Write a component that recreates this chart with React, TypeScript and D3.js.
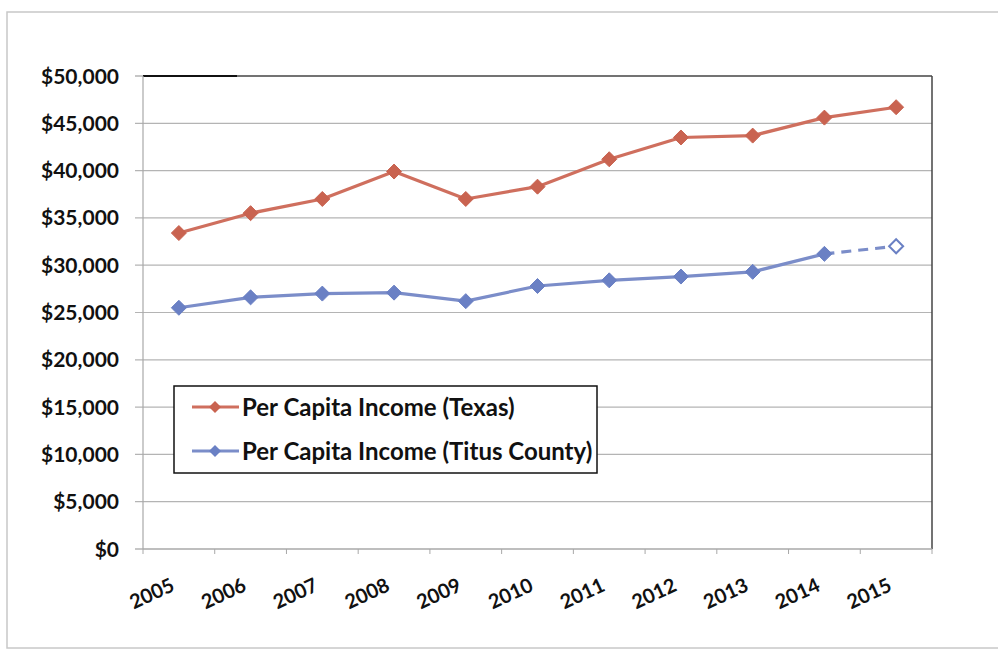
import React from "react";
import * as d3 from "d3";

const years = ["2005","2006","2007","2008","2009","2010","2011","2012","2013","2014","2015"];
const texas = [33400, 35500, 37000, 39900, 37000, 38300, 41200, 43500, 43700, 45600, 46700];
const titus = [25500, 26600, 27000, 27100, 26200, 27800, 28400, 28800, 29300, 31200, 32000];
const yTicks = [0, 5000, 10000, 15000, 20000, 25000, 30000, 35000, 40000, 45000, 50000];
const seriesNames = ["Per Capita Income (Texas)", "Per Capita Income (Titus County)"];

const W = 998, H = 650;
const L = 143, R = 932, T = 76, B = 549;
const RED = "#cf6f5e", RED_M = "#c96350";
const BLUE = "#7b8dc9", BLUE_M = "#6a80c4";
const FONT = "Lato, 'Open Sans', sans-serif";

export default function App() {
  const x = d3.scaleBand<string>().domain(years).range([L, R]).padding(0);
  const y = d3.scaleLinear().domain([0, 50000]).range([B, T]);
  const cx = (i: number) => (x(years[i]) as number) + x.bandwidth() / 2;
  const line = d3.line<number>().x((_, i) => cx(i)).y((d) => y(d));
  const diamond = (px: number, py: number, r = 7.5) =>
    `M${px},${py - r}L${px + r},${py}L${px},${py + r}L${px - r},${py}Z`;

  const titusSolid = titus.slice(0, 10);
  const dashedPath = `M${cx(9)},${y(titus[9])}L${cx(10)},${y(titus[10])}`;
  const fmt = (v: number) => "$" + d3.format(",")(v);

  return (
    <svg width={W} height={H} style={{ position: "absolute", left: 0, top: 0, background: "#fff" }}>
      {/* outer frame */}
      <rect x={7} y={12} width={1100} height={636} fill="none" stroke="#c8c8c8" strokeWidth={1.5} />
      {/* gridlines */}
      {yTicks.filter((t) => t > 0 && t < 50000).map((t) => (
        <line key={t} x1={L - 8} x2={R} y1={y(t)} y2={y(t)} stroke="#b4b4b4" strokeWidth={1.2} />
      ))}
      <line x1={L - 8} x2={L} y1={y(0)} y2={y(0)} stroke="#a0a0a0" strokeWidth={1.2} />
      <line x1={L - 8} x2={L} y1={y(50000)} y2={y(50000)} stroke="#a0a0a0" strokeWidth={1.2} />
      {/* plot border */}
      <line x1={L} x2={R} y1={T} y2={T} stroke="#444" strokeWidth={1.5} />
      <line x1={L} x2={237} y1={T} y2={T} stroke="#111" strokeWidth={2} />
      <line x1={R} x2={R} y1={T} y2={B} stroke="#444" strokeWidth={1.5} />
      <line x1={L} x2={L} y1={T} y2={B} stroke="#a8a8a8" strokeWidth={1.2} />
      <line x1={L} x2={R} y1={B} y2={B} stroke="#a8a8a8" strokeWidth={1.5} />
      {/* x ticks */}
      {years.concat(["end"]).map((_, i) => {
        const xx = L + i * x.bandwidth();
        return <line key={i} x1={xx} x2={xx} y1={B} y2={B + 5} stroke="#a8a8a8" strokeWidth={1} />;
      })}
      {/* y labels */}
      {yTicks.map((t) => (
        <text key={t} x={119} y={y(t)} dy="0.36em" textAnchor="end" fontFamily={FONT} fontWeight={700} fontSize={21} fill="#111">
          {fmt(t)}
        </text>
      ))}
      {/* x labels */}
      {years.map((yr, i) => (
        <text key={yr} transform={`translate(${cx(i) - 3},${B + 41}) rotate(-25)`} textAnchor="end" fontFamily={FONT} fontWeight={700} fontSize={20} fill="#111">
          {yr}
        </text>
      ))}
      {/* Texas series */}
      <path d={line(texas) || ""} fill="none" stroke={RED} strokeWidth={3.2} strokeLinejoin="round" />
      {texas.map((v, i) => (
        <path key={i} d={diamond(cx(i), y(v))} fill={RED_M} stroke={RED_M} strokeWidth={1} />
      ))}
      {/* Titus series */}
      <path d={line(titusSolid) || ""} fill="none" stroke={BLUE} strokeWidth={3.2} strokeLinejoin="round" />
      <path d={dashedPath} fill="none" stroke={BLUE} strokeWidth={3.2} strokeDasharray="10,7" />
      {titusSolid.map((v, i) => (
        <path key={i} d={diamond(cx(i), y(v))} fill={BLUE_M} stroke={BLUE_M} strokeWidth={1} />
      ))}
      <path d={diamond(cx(10), y(titus[10]), 7)} fill="#fff" stroke={BLUE_M} strokeWidth={2} />
      {/* legend */}
      <rect x={174} y={386} width={423} height={87} fill="#fff" stroke="#111" strokeWidth={1.5} />
      {seriesNames.map((n, i) => {
        const yy = 407 + i * 44;
        const c = i === 0 ? RED : BLUE;
        const cm = i === 0 ? RED_M : BLUE_M;
        return (
          <g key={n}>
            <line x1={192} x2={239} y1={yy} y2={yy} stroke={c} strokeWidth={3.2} />
            <path d={diamond(215, yy, 6)} fill={cm} />
            <text x={242} y={yy} dy="0.36em" fontFamily={FONT} fontWeight={700} fontSize={24} fill="#111">{n}</text>
          </g>
        );
      })}
    </svg>
  );
}
